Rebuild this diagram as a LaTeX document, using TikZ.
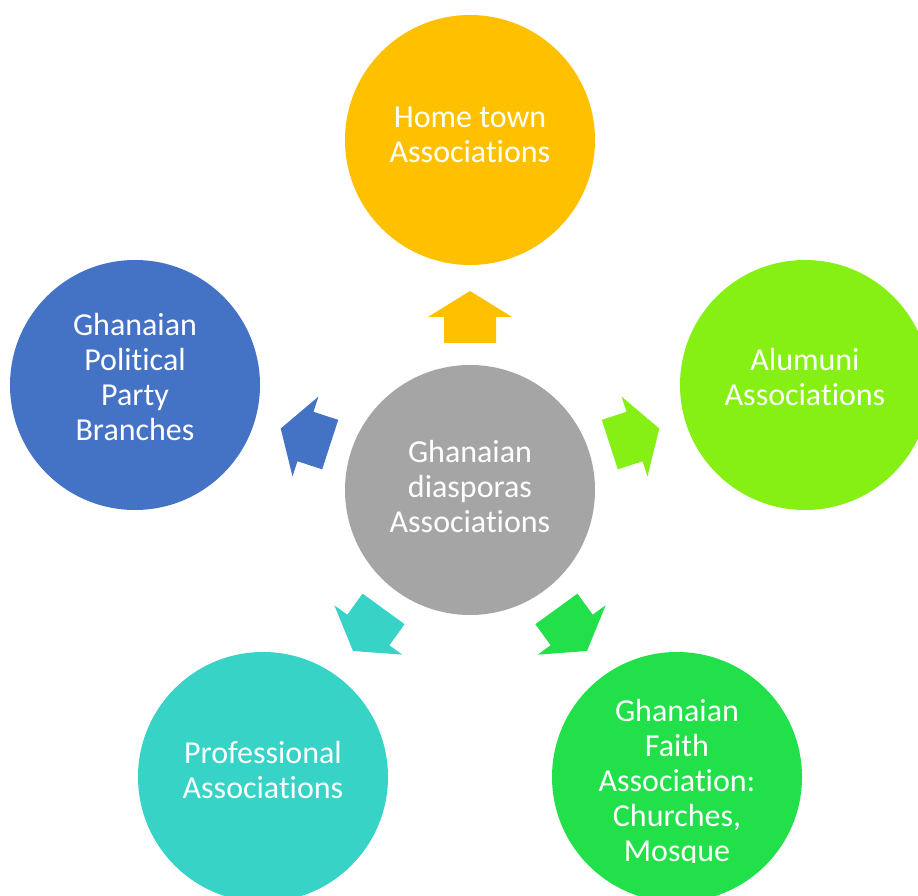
\documentclass[tikz,border=0pt]{standalone}
\usepackage{fontspec}
\setmainfont[Ligatures={NoCommon}]{Carlito}
\newcommand\brk{\kern0pt }
\definecolor{cgold}{HTML}{FFC000}
\definecolor{clime}{HTML}{86EF14}
\definecolor{cblue}{HTML}{4472C4}
\definecolor{cteal}{HTML}{36D3C6}
\definecolor{cgreen}{HTML}{22E04A}
\definecolor{cgray}{HTML}{A5A5A5}
\begin{document}
\begin{tikzpicture}[x=1pt,y=1pt,
  circ/.style={circle, minimum size=250pt, inner sep=0pt, draw=none},
  lbl/.style={text=white, align=center, inner sep=0pt, font=\fontsize{32}{35}\selectfont},
  blockarrow/.style={draw=none}]
\useasboundingbox (0,0) rectangle (918,895);
\clip (0,0) rectangle (918,895);
\fill[white] (0,0) rectangle (918,895);
\coordinate (c) at (470,405);
% circles
\node[circ, fill=cgray]  (center) at (c) {};
\node[circ, fill=cgold]  (top)    at (470,755) {};
\node[circ, fill=clime]  (right)  at (805,510) {};
\node[circ, fill=cblue]  (left)   at (135,510) {};
\node[circ, fill=cteal]  (bl)     at (263,118) {};
\node[circ, fill=cgreen] (br)     at (677,118) {};
% arrows
\foreach \ang/\col in {90/cgold, 18/clime, 162/cblue, 234/cteal, 306/cgreen}{
  \fill[\col, blockarrow, shift={(c)}, rotate=\ang]
    (147,-26) -- (173,-26) -- (173,-42) -- (199,0) -- (173,42) -- (173,26) -- (147,26) -- cycle;
}
% labels
\node[lbl] (centert) at ([yshift=3]center.center) {Ghanaian\\diasporas\\Associat\brk ions};
\node[lbl] (topt)    at ([yshift=5]top.center) {Home town\\Associat\brk ions};
\node[lbl] (rightt)  at ([yshift=8]right.center) {Alumuni\\Associat\brk ions};
\node[lbl] (leftt)   at ([yshift=8]left.center) {Ghanaian\\Poli\brk t\brk ical\\Party\\Branches};
\node[lbl] (blt)     at ([yshift=7]bl.center) {Professional\\Associat\brk ions};
\begin{scope}
\clip (500,33) rectangle (860,300);
\node[lbl] (brt)     at ([yshift=-6]br.center) {Ghanaian\\Faith\\Associat\brk ion:\\Churches,\\Mosque};
\end{scope}
\end{tikzpicture}
\end{document}
